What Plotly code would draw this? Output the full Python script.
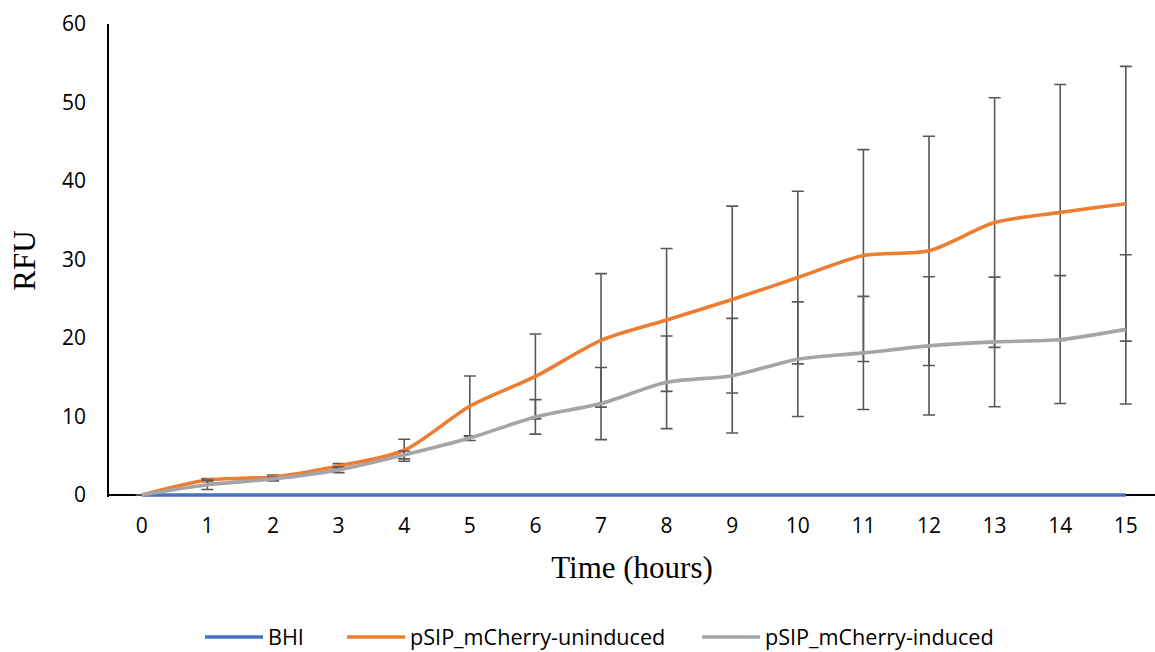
import plotly.graph_objects as go

# Time points (hours)
hours = list(range(16))

# Mean relative fluorescence per condition
bhi = [0] * 16
uninduced = [0, 1.9, 2.3, 3.7, 5.7, 11.3, 15.1, 19.7, 22.3, 24.9, 27.7, 30.5, 31.1, 34.7, 36.0, 37.1]
induced = [0, 1.3, 2.05, 3.2, 5.1, 7.25, 9.95, 11.65, 14.35, 15.2, 17.3, 18.1, 19.0, 19.5, 19.8, 21.1]

# Standard deviations (symmetric error bars)
uninduced_sd = [0, 0.2, 0.25, 0.3, 1.4, 3.85, 5.4, 8.5, 9.1, 11.9, 11.0, 13.5, 14.6, 15.9, 16.3, 17.5]
induced_sd = [0, 0.6, 0.25, 0.35, 0.5, 0.3, 2.2, 4.6, 5.9, 7.3, 7.3, 7.2, 8.8, 8.25, 8.15, 9.5]

y_ticks = [0, 10, 20, 30, 40, 50, 60]

err_style = dict(type="data", visible=True, color="#595959", thickness=1.6, width=6)

fig = go.Figure()
fig.add_trace(go.Scatter(
    x=hours, y=bhi, name="BHI", mode="lines", legend="legend",
    line=dict(color="#4472C4", width=3.6, shape="spline"),
))
fig.add_trace(go.Scatter(
    x=hours, y=uninduced, name="pSIP_mCherry-uninduced", mode="lines", legend="legend2",
    line=dict(color="#ED7D31", width=3.6, shape="spline", smoothing=0.8),
    error_y=dict(array=uninduced_sd, **err_style),
))
fig.add_trace(go.Scatter(
    x=hours, y=induced, name="pSIP_mCherry-induced", mode="lines", legend="legend3",
    line=dict(color="#A5A5A5", width=3.6, shape="spline", smoothing=0.8),
    error_y=dict(array=induced_sd, **err_style),
))

tick_font = dict(family="Open Sans", size=21, color="#000000")
title_font = dict(family="Liberation Serif", size=31, color="#000000")
legend_font = dict(family="Open Sans", size=21.6, color="#000000")


def legend_box(x):
    return dict(
        orientation="h", x=x, xanchor="left", y=-0.297, yanchor="middle",
        font=legend_font, itemwidth=58, bgcolor="rgba(0,0,0,0)",
    )


fig.update_layout(
    width=1155, height=652,
    margin=dict(l=109, r=0, t=24, b=155, autoexpand=False),
    paper_bgcolor="white", plot_bgcolor="white",
    showlegend=True,
    legend=legend_box(0.087),
    legend2=legend_box(0.2228),
    legend3=legend_box(0.5621),
    xaxis=dict(
        range=[-0.5, 15.445], tickmode="array", tickvals=hours,
        ticktext=[str(h) for h in hours],
        showgrid=False, zeroline=False, showline=False, ticks="",
        ticklabelstandoff=14, tickfont=tick_font,
        title=dict(text="Time (hours)", font=title_font, standoff=18),
    ),
    yaxis=dict(
        range=[-0.255, 60], tickmode="array", tickvals=y_ticks,
        showgrid=False, showline=True,
        zeroline=True, zerolinecolor="#000000", zerolinewidth=1.6,
        linecolor="#000000", linewidth=1.6, ticks="",
        ticklabelstandoff=17, tickfont=tick_font,
        title=dict(text="RFU", font=title_font, standoff=17),
    ),
)

fig.write_html("out.html")
